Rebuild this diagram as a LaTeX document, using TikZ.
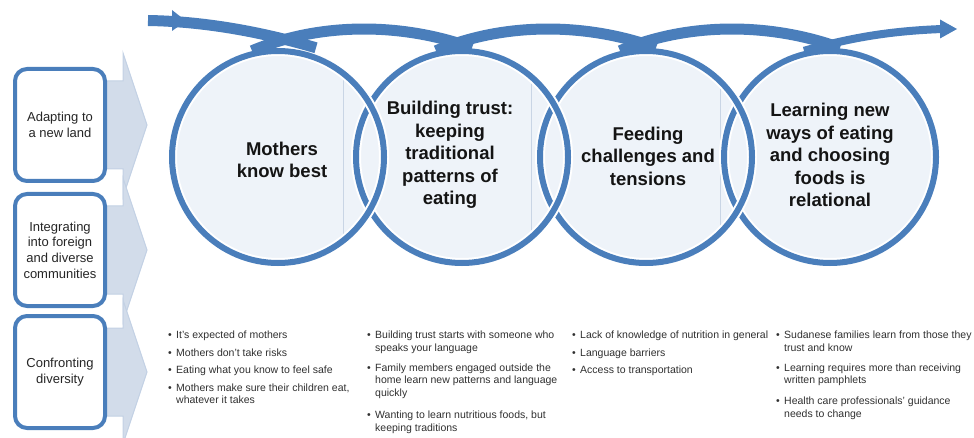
\documentclass[tikz,border=0pt]{standalone}
\usepackage{fontspec}
\setmainfont{Liberation Sans}
\usetikzlibrary{calc}

\definecolor{ringblue}{HTML}{4A7EBB}
\definecolor{ringfill}{HTML}{EEF3F9}
\definecolor{chevfill}{HTML}{D2DCEA}
\definecolor{chevline}{HTML}{C3D1E4}
\definecolor{faintline}{HTML}{C9D5E5}
\definecolor{pointtext}{HTML}{303030}

% bullet column for the point lists
\newcommand{\bul}{\textbullet &}

\begin{document}
\begin{tikzpicture}[x=1pt,y=-1pt,
  ring/.style={circle,minimum size=212pt,inner sep=0pt},
  ttl/.style={font=\fontsize{18.5}{22.5}\selectfont\bfseries,align=center,text=black!92},
  side/.style={draw=ringblue,line width=4pt,rounded corners=12pt,fill=white,
               minimum width=90pt,minimum height=112pt,align=center,
               font=\fontsize{13}{15.7}\selectfont,text=black!85},
  chev/.style={fill=chevfill,draw=chevline,line width=1pt},
  band/.style={draw=ringblue,line width=11pt},
  faint/.style={draw=faintline,line width=0.8pt},
  pts/.style={anchor=north west,inner sep=0pt,text=pointtext,
              font=\fontsize{10.5}{13}\selectfont}]

  \useasboundingbox (0,0) rectangle (974,438);

  % chevrons behind the theme boxes
  \foreach \cy in {125,250,372}
    \draw[chev] (60,\cy-44) -- (123,\cy-44) -- (123,\cy-72) -- (147,\cy)
                -- (123,\cy+72) -- (123,\cy+44) -- (60,\cy+44) -- cycle;

  % theme boxes
  \node[side] (s1) at (60,125) {Adapting to\\a new land};
  \node[side] (s2) at (60,250) {Integrating\\into foreign\\and diverse\\communities};
  \node[side] (s3) at (60,372) {Confronting\\diversity};

  % circles: fills first, then the rims
  \foreach \i/\cx in {1/278,2/462,3/646,4/830}
    \node[ring,fill=ringfill] (c\i) at (\cx,157) {};
  \foreach \i/\lx in {1/343,2/531,3/720} {
    \begin{scope}
      \clip (c\i.center) circle (103pt);
      \draw[faint] (\lx,40) -- (\lx,280);
    \end{scope}
  }
  \foreach \i in {4,3,2,1} {
    \draw[white,line width=10pt] (c\i.center) circle (106pt);
    \draw[ringblue,line width=6pt] (c\i.center) circle (106pt);
  }

  % circle titles
  \node[ttl] (t1) at (282,160) {Mothers\\know best};
  \node[ttl] (t2) at (450,155) {Building trust:\\keeping\\traditional\\patterns of\\eating};
  \node[ttl] (t3) at (648,156) {Feeding\\challenges and\\tensions};
  \node[ttl] (t4) at (830,155) {Learning new\\ways of eating\\and choosing\\foods is\\relational};

  % weaving arrow over the circles
  \coordinate (in) at (148,20.5);
  \coordinate (out) at (942,29);
  \draw[band] (in) .. controls +(62,1) and +(-48,-14) .. ($(c1.north)+(38,-3)$);
  \fill[ringblue] (172,10) -- (186,21) -- (172,31) -- cycle;
  \foreach \i/\j in {1/2,2/3,3/4}
    \draw[band] ($(c\i.north)+(-26,0)$) .. controls +(66,-28) and +(-72,-26)
                .. ($(c\j.north)+(10,-3)$);
  \draw[band,line width=8pt] ($(c4.north)+(-26,0)$) .. controls +(50,-14) and +(-50,2) .. (out);
  \fill[ringblue] (940,19.5) -- (957,29) -- (940,38.5) -- cycle;

  % points under each circle
  \node[pts] (p1) at (168,328.7) {\begin{tabular}{@{}p{8pt}@{}l@{}}
    \bul It’s expected of mothers\\[5pt]
    \bul Mothers don’t take risks\\[4pt]
    \bul Eating what you know to feel safe\\[5pt]
    \bul Mothers make sure their children eat,\\[-1pt]
         & whatever it takes
  \end{tabular}};
  \node[pts] (p2) at (367,328.7) {\begin{tabular}{@{}p{8pt}@{}l@{}}
    \bul Building trust starts with someone who\\
         & speaks your language\\[7pt]
    \bul Family members engaged outside the\\[-0.5pt]
         & home learn new patterns and language\\[-0.5pt]
         & quickly\\[9pt]
    \bul Wanting to learn nutritious foods, but\\
         & keeping traditions
  \end{tabular}};
  \node[pts] (p3) at (572,328.7) {\begin{tabular}{@{}p{8pt}@{}l@{}}
    \bul Lack of knowledge of nutrition in general\\[5pt]
    \bul Language barriers\\[4pt]
    \bul Access to transportation
  \end{tabular}};
  \node[pts] (p4) at (776,328.7) {\begin{tabular}{@{}p{8pt}@{}l@{}}
    \bul Sudanese families learn from those they\\
         & trust and know\\[7pt]
    \bul Learning requires more than receiving\\[-1pt]
         & written pamphlets\\[8pt]
    \bul Health care professionals’ guidance\\
         & needs to change
  \end{tabular}};

\end{tikzpicture}
\end{document}
